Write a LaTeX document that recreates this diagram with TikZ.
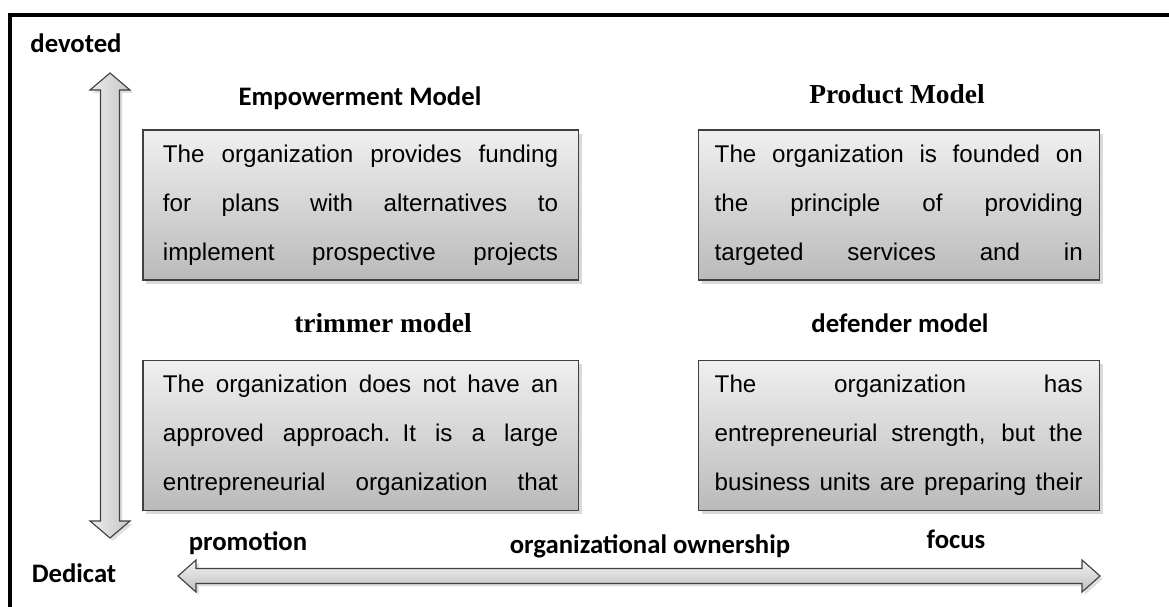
\documentclass[tikz,border=0pt]{standalone}
\usepackage{fontspec}
\setmainfont{Liberation Sans}
\newfontfamily\calib{Carlito}
\newfontfamily\timesbold{Liberation Serif}
\usetikzlibrary{positioning, shadows}

% one justified line of a box
\newcommand\jl[2][9.875cm]{\leavevmode\hbox to #1{\spaceskip=0.28em plus 1fil\relax #2}}

\begin{document}
\begin{tikzpicture}[
	x=0.025cm, y=-0.025cm,
	box/.style={draw=black!75, line width=0.8pt, top color=black!6, bottom color=black!27,
		inner sep=0pt, align=left, minimum height=3.75cm,
		font=\fontsize{17.2}{34.9}\selectfont,
		drop shadow={shadow xshift=2.5pt, shadow yshift=-2.5pt, opacity=0.3}},
	heading/.style={font=\calib\bfseries\fontsize{19}{22}\selectfont, anchor=base, inner sep=0pt},
	serifheading/.style={font=\timesbold\bfseries\fontsize{19.5}{22}\selectfont, anchor=base, inner sep=0pt},
	axisarrow/.style={draw=black!75, line width=0.8pt, line join=miter,
		drop shadow={shadow xshift=2pt, shadow yshift=-2pt, opacity=0.25}}
]
\useasboundingbox (0,0) rectangle (1169,606);
\draw[line width=2.2pt] (10,620) -- (10,15) -- (1180,15);

% the four models
\node[box, text width=9.875cm, minimum width=10.875cm] (empower) at (360.5,205) {%
	\jl{The organization provides funding}\\
	\jl{for plans with alternatives to}\\
	\jl{implement prospective projects}};
\node[box, text width=9.2cm, minimum width=10.025cm, right=2.975cm of empower] (product) {%
	\jl[9.2cm]{The organization is founded on}\\
	\jl[9.2cm]{the principle of providing}\\
	\jl[9.2cm]{targeted services and in}};
\node[box, text width=9.875cm, minimum width=10.875cm, below=1.975cm of empower] (trimmer) {%
	\jl{The organization does not have an}\\
	\jl{approved approach. It is a large}\\
	\jl{entrepreneurial organization that}};
\node[box, text width=9.2cm, minimum width=10.025cm, right=2.975cm of trimmer] (defender) {%
	\jl[9.2cm]{The organization has}\\
	\jl[9.2cm]{entrepreneurial strength, but the}\\
	\jl[9.2cm]{business units are preparing their}};

\node[heading] (empowertitle) at (360,105) {Empowerment Model};
\node[serifheading] (producttitle) at (897,103) {Product Model};
\node[serifheading] (trimmertitle) at (383,332) {trimmer model};
\node[heading] (defendertitle) at (900,332) {defender model};

% vertical axis
\node[heading] (devoted) at (76,52) {devoted};
\node[heading] (dedicat) at (74,582) {Dedicat};
\path[axisarrow, left color=black!8, right color=black!22]
	(110,73) -- (130,90) -- (119.5,90) -- (119.5,521) -- (130,521) -- (110,538)
	-- (90,521) -- (100.5,521) -- (100.5,90) -- (90,90) -- cycle;

% horizontal axis
\node[heading] (promotion) at (248,550) {promotion};
\node[heading] (ownership) at (650,553) {organizational ownership};
\node[heading] (focus) at (956,548) {focus};
\path[axisarrow, top color=black!5, bottom color=black!25]
	(178,576) -- (196,560) -- (196,568.5) -- (1082,568.5) -- (1082,560) -- (1100,576)
	-- (1082,592) -- (1082,583.5) -- (196,583.5) -- (196,592) -- cycle;
\end{tikzpicture}
\end{document}
